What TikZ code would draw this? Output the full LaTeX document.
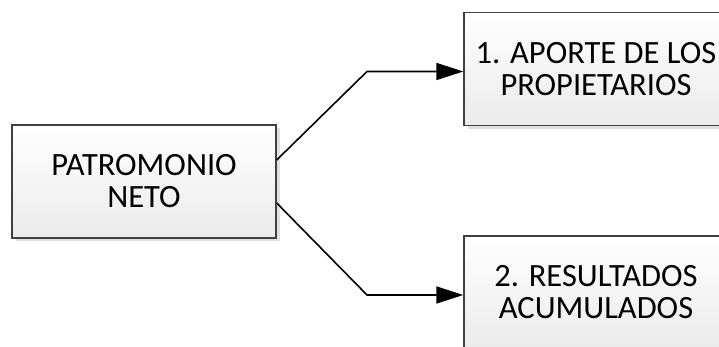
\documentclass[tikz,border=0pt]{standalone}
\usepackage{fontspec}
\setmainfont{Carlito}
\usetikzlibrary{arrows.meta,shadows}
\tikzset{
  caja/.style={draw=black!75, line width=1.4pt, top color=white, bottom color=black!8,
    drop shadow={shadow xshift=3.5pt, shadow yshift=-3.5pt, fill=black!12, opacity=1},
    minimum width=264pt, minimum height=113pt, inner sep=0pt, align=center,
    font=\fontsize{32.5}{32}\selectfont},
  flecha/.style={line width=1.6pt, -{Triangle[length=27pt,width=17pt]}}
}
\begin{document}
\begin{tikzpicture}[x=1pt,y=1pt]
    \useasboundingbox (0,0) rectangle (719,347);
    \begin{scope}
    \clip (0,0) rectangle (719,347);
		\node [caja](pn)at (144,165.5) {PATROMONIO\\NETO};
		\node [caja](ap)at (596,278) {1. APORTE DE LOS\\PROPIETARIOS};
		\node [caja](ra)at (596,54.5) {2. RESULTADOS\\ACUMULADOS};
		\coordinate (k1)at (367,275.5);
		\coordinate (k2)at (367,52);
		\draw [flecha]([yshift=21.5pt]pn.east)--(k1)--(k1 -| ap.west);
		\draw [flecha]([yshift=-21.5pt]pn.east)--(k2)--(k2 -| ra.west);
    \end{scope}
	\end{tikzpicture}
\end{document}
